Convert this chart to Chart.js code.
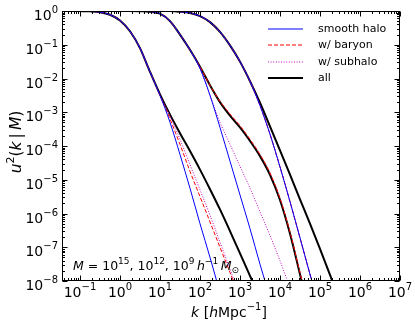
<!DOCTYPE html>
<html lang="en">
<head>
    <meta charset="UTF-8">
    <title>u2(k|M)</title>
    <script src="https://cdn.jsdelivr.net/npm/chart.js"></script>
    <style>
        html, body { margin: 0; padding: 0; background: #fff; }
    </style>
</head>
<body>
    <canvas id="chart" width="415" height="326"></canvas>

    <script>
        // k grid in h/Mpc (quarter decades)
        const kGrid = [0.0316, 0.0562, 0.1, 0.178, 0.316, 0.562, 1, 1.78, 3.16, 5.62,
                       10, 17.8, 31.6, 56.2, 100, 178, 316, 562, 1000, 1780,
                       3160, 5620, 1e4, 1.78e4, 3.16e4, 5.62e4, 1e5, 1.78e5, 3.16e5, 5.62e5];

        // M = 1e15
        const smooth15  = [1, 0.998, 0.993, 0.977, 0.923, 0.776, 0.525, 0.251, 0.0794, 0.0158,
                           3.16e-3, 5.01e-4, 5.62e-5, 5.62e-6, 5.01e-7, 5.01e-8, 4.47e-9];
        const baryon15  = [1, 0.998, 0.993, 0.977, 0.923, 0.776, 0.525, 0.251, 0.0794, 0.0158,
                           3.16e-3, 6.31e-4, 1.12e-4, 1.78e-5, 3.16e-6, 5.62e-7, 1.0e-7, 1.78e-8, 3.16e-9];
        const subhalo15 = [1, 0.998, 0.993, 0.977, 0.923, 0.776, 0.525, 0.251, 0.0794, 0.0158,
                           3.16e-3, 7.94e-4, 1.58e-4, 2.82e-5, 5.01e-6, 8.91e-7, 1.41e-7, 2.24e-8, 3.55e-9];
        const all15     = [1, 0.998, 0.993, 0.977, 0.923, 0.776, 0.525, 0.251, 0.0794, 0.0158,
                           3.39e-3, 8.51e-4, 2.40e-4, 7.08e-5, 2.0e-5, 5.25e-6, 1.32e-6, 3.02e-7, 6.61e-8, 1.41e-8,
                           3.16e-9];

        // M = 1e12
        const smooth12  = [1, 1, 1, 1, 1, 1, 1, 1, 0.989, 0.955,
                           0.832, 0.501, 0.200, 0.0708, 0.0200, 3.16e-3, 3.55e-4, 3.55e-5, 3.55e-6, 3.55e-7,
                           3.16e-8, 3.16e-9];
        const baryon12  = [1, 1, 1, 1, 1, 1, 1, 1, 0.989, 0.955,
                           0.832, 0.501, 0.200, 0.0708, 0.0224, 6.31e-3, 2.09e-3, 8.91e-4, 3.98e-4, 1.58e-4,
                           5.62e-5, 1.58e-5, 2.82e-6, 2.82e-7, 1.78e-8, 1.12e-9];
        const subhalo12 = [1, 1, 1, 1, 1, 1, 1, 1, 0.989, 0.955,
                           0.832, 0.501, 0.200, 0.0708, 0.0200, 3.16e-3, 5.01e-4, 1.12e-4, 2.51e-5, 5.62e-6,
                           1.12e-6, 2.24e-7, 3.98e-8, 6.31e-9];
        const all12     = [1, 1, 1, 1, 1, 1, 1, 1, 0.989, 0.955,
                           0.832, 0.501, 0.200, 0.0708, 0.0224, 6.31e-3, 2.0e-3, 7.94e-4, 3.55e-4, 1.41e-4,
                           5.01e-5, 1.41e-5, 2.51e-6, 2.51e-7, 1.58e-8, 1.0e-9];

        // M = 1e9
        const smooth9   = [1, 1, 1, 1, 1, 1, 1, 1, 1, 1,
                           1, 1, 0.955, 0.871, 0.708, 0.468, 0.240, 0.0955, 0.0316, 8.32e-3,
                           1.58e-3, 2.24e-4, 2.40e-5, 2.24e-6, 1.91e-7, 1.58e-8, 1.41e-9];
        const baryon9   = [1, 1, 1, 1, 1, 1, 1, 1, 1, 1,
                           1, 1, 0.955, 0.871, 0.708, 0.468, 0.240, 0.0955, 0.0316, 8.32e-3,
                           1.58e-3, 2.24e-4, 2.40e-5, 2.24e-6, 1.91e-7, 1.58e-8, 1.41e-9];
        const subhalo9  = [1, 1, 1, 1, 1, 1, 1, 1, 1, 1,
                           1, 1, 0.955, 0.871, 0.708, 0.468, 0.240, 0.0955, 0.0316, 8.32e-3,
                           1.58e-3, 2.24e-4, 2.40e-5, 2.24e-6, 1.91e-7, 1.58e-8, 1.41e-9];
        const all9      = [1, 1, 1, 1, 1, 1, 1, 1, 1, 1,
                           1, 1, 0.955, 0.871, 0.708, 0.468, 0.240, 0.0955, 0.0316, 8.32e-3,
                           1.91e-3, 3.80e-4, 7.41e-5, 1.41e-5, 2.63e-6, 5.01e-7, 8.91e-8, 1.51e-8, 2.51e-9];

        const legendLabels = ['smooth halo', 'w/ baryon', 'w/ subhalo', 'all'];
        const xTickExps = [-1, 0, 1, 2, 3, 4, 5, 6, 7];
        const yTickExps = [0, -1, -2, -3, -4, -5, -6, -7, -8];

        const styles = [
            { borderColor: '#0000ff', borderWidth: 1, borderDash: [] },
            { borderColor: '#ff0000', borderWidth: 1, borderDash: [4, 2] },
            { borderColor: '#bf00bf', borderWidth: 1, borderDash: [1, 1.6] },
            { borderColor: '#000000', borderWidth: 2, borderDash: [] }
        ];

        function toPoints(vals) {
            return vals.map((v, i) => ({ x: kGrid[i], y: v }));
        }

        const groups = [
            [smooth15, baryon15, subhalo15, all15],
            [smooth12, baryon12, subhalo12, all12],
            [smooth9, baryon9, subhalo9, all9]
        ];

        const datasets = [];
        groups.forEach(g => {
            g.forEach((vals, j) => {
                datasets.push({
                    label: legendLabels[j],
                    data: toPoints(vals),
                    pointRadius: 0,
                    fill: false,
                    cubicInterpolationMode: 'monotone',
                    borderColor: styles[j].borderColor,
                    borderWidth: styles[j].borderWidth,
                    borderDash: styles[j].borderDash.slice()
                });
            });
        });

        const FONT = '"DejaVu Sans", sans-serif';

        // draw a list of text pieces [text, font, dy]
        function drawPieces(ctx, pieces, x, y, align) {
            let total = 0;
            pieces.forEach(p => { ctx.font = p[1]; total += ctx.measureText(p[0]).width; });
            let cx = x;
            if (align === 'center') cx = x - total / 2;
            if (align === 'right') cx = x - total;
            pieces.forEach(p => {
                ctx.font = p[1];
                ctx.fillText(p[0], cx, y + (p[2] || 0));
                cx += ctx.measureText(p[0]).width;
            });
        }

        function powPieces(e) {
            const s = String(e).replace('-', '\u2212');
            return [['10', '14px ' + FONT, 0], [s, '10px ' + FONT, -7]];
        }

        const decoPlugin = {
            id: 'deco',
            afterDraw(chart) {
                const ctx = chart.ctx;
                const a = chart.chartArea;
                const xs = chart.scales.x, ys = chart.scales.y;
                ctx.save();
                ctx.fillStyle = '#000';
                ctx.strokeStyle = '#000';
                ctx.lineWidth = 1;
                ctx.setLineDash([]);
                const L = Math.round(a.left) + 0.5, R = Math.round(a.right) - 0.5;
                const T = Math.round(a.top) + 0.5, B = Math.round(a.bottom) - 0.5;
                ctx.strokeRect(L, T, R - L, B - T);

                // ticks inside, on all four sides
                ctx.beginPath();
                for (let e = -2; e <= 7; e++) {
                    for (let m = 1; m <= 9; m++) {
                        const v = m * Math.pow(10, e);
                        if (v < xs.min || v > xs.max) continue;
                        const px = Math.round(xs.getPixelForValue(v)) + 0.5;
                        const len = m === 1 ? 5 : 2.5;
                        ctx.moveTo(px, B); ctx.lineTo(px, B - len);
                        ctx.moveTo(px, T); ctx.lineTo(px, T + len);
                    }
                }
                for (let e = -8; e <= 0; e++) {
                    for (let m = 1; m <= 9; m++) {
                        const v = m * Math.pow(10, e);
                        if (v < ys.min || v > ys.max) continue;
                        const py = Math.round(ys.getPixelForValue(v)) + 0.5;
                        const len = m === 1 ? 5 : 2.5;
                        ctx.moveTo(L, py); ctx.lineTo(L + len, py);
                        ctx.moveTo(R, py); ctx.lineTo(R - len, py);
                    }
                }
                ctx.stroke();

                // tick labels
                ctx.textBaseline = 'alphabetic';
                xTickExps.forEach(e => {
                    const px = xs.getPixelForValue(Math.pow(10, e));
                    drawPieces(ctx, powPieces(e), px, 297, 'center');
                });
                yTickExps.forEach(e => {
                    const py = ys.getPixelForValue(Math.pow(10, e));
                    drawPieces(ctx, powPieces(e), 58, py + 9, 'right');
                });

                // axis titles
                const it14 = 'italic 14px ' + FONT, up14 = '14px ' + FONT, up10 = '10px ' + FONT;
                drawPieces(ctx, [['k', it14], [' [', up14], ['h', it14], ['Mpc', up14],
                                 ['\u22121', up10, -7], [']', up14]], 229, 317, 'center');
                const it15 = 'italic 15.5px ' + FONT, up15 = '15.5px ' + FONT, up11 = '11px ' + FONT;
                ctx.save();
                ctx.translate(21, 142);
                ctx.rotate(-Math.PI / 2);
                drawPieces(ctx, [['u', it15], ['2', up11, -7.5], ['(', up15], ['k', it15],
                                 ['\u2009|\u2009', up15], ['M', it15], [')', up15]], 0, 0, 'center');
                ctx.restore();

                // mass annotation
                const it13 = 'italic 12.5px ' + FONT, up13 = '12.5px ' + FONT, s9 = '9px ' + FONT;
                drawPieces(ctx, [['M', it13], [' = 10', up13], ['15', s9, -6], [', 10', up13],
                                 ['12', s9, -6], [', 10', up13], ['9', s9, -6], ['\u2009h', it13],
                                 ['\u22121', s9, -6], ['\u2009M', it13], ['\u2299', s9, 3]], 73, 270, 'left');

                // legend
                const rows = [29, 45, 62, 78];
                legendLabels.forEach((lab, j) => {
                    const st = styles[j];
                    ctx.beginPath();
                    ctx.strokeStyle = st.borderColor;
                    ctx.lineWidth = st.borderWidth;
                    ctx.setLineDash(st.borderDash);
                    ctx.moveTo(268, rows[j]); ctx.lineTo(303, rows[j]);
                    ctx.stroke();
                    ctx.setLineDash([]);
                    ctx.font = '11px ' + FONT;
                    ctx.textBaseline = 'middle';
                    ctx.fillStyle = '#000';
                    ctx.fillText(lab, 318, rows[j]);
                });
                ctx.restore();
            }
        };

        const ctx = document.getElementById('chart').getContext('2d');
        const chart = new Chart(ctx, {
            type: 'line',
            data: { datasets: datasets },
            options: {
                responsive: false,
                animation: false,
                devicePixelRatio: 1,
                layout: { padding: { top: 11, right: 15, left: 0, bottom: 0 } },
                plugins: { legend: { display: false }, tooltip: { enabled: false } },
                scales: {
                    x: {
                        type: 'logarithmic', min: 0.0355, max: 1e7,
                        grid: { display: false }, border: { display: false },
                        ticks: { display: false },
                        afterFit(s) { s.height = 45; }
                    },
                    y: {
                        type: 'logarithmic', min: 1e-8, max: 1,
                        grid: { display: false }, border: { display: false },
                        ticks: { display: false },
                        afterFit(s) { s.width = 62; }
                    }
                }
            },
            plugins: [decoPlugin]
        });
    </script>
</body>
</html>
